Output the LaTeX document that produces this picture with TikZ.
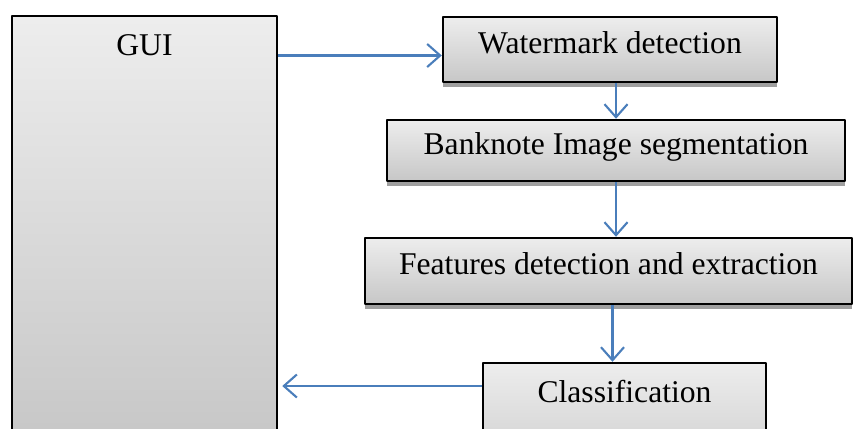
\documentclass[tikz,border=0pt]{standalone}
\usepackage{fontspec}
\setmainfont{Liberation Serif}
\usetikzlibrary{arrows.meta,shadows,calc}
\definecolor{flowblue}{RGB}{74,126,187}
\tikzset{
	blok/.style={draw=black, line width=1.4pt, rectangle, top color=gray!14, bottom color=gray!44,
		font=\fontsize{18}{21}\selectfont, inner sep=0pt, text height=0.7em, text depth=0.3em},
	blokshadow/.style={general shadow={shadow yshift=-0.09cm, fill=gray!75}},
	flow/.style={draw=flowblue, line width=1.2pt, -{Straight Barb[length=2.6mm,width=4.6mm]}},
}
\begin{document}
\begin{tikzpicture}[join=round]
	\useasboundingbox (0,0) rectangle (17.1,-8.56);
	\clip (0,0) rectangle (17.1,-8.56);
	% boxes
	\node[blok, minimum width=5.3cm, text height=0.78cm, text depth=7.7cm, anchor=base] (gui) at (2.89,-1.10) {GUI};
	\node[blok, blokshadow, minimum width=6.68cm, minimum height=1.3cm] (wmark) at (12.2,-0.99) {Watermark detection};
	\node[blok, blokshadow, minimum width=9.16cm, minimum height=1.22cm] (segm) at (12.32,-3.01) {Banknote Image segmentation};
	\node[blok, blokshadow, minimum width=9.74cm, minimum height=1.32cm] (feat) at (12.17,-5.42) {Features detection and extraction};
	\node[blok, minimum width=5.66cm, text height=0.78cm, text depth=1.82cm, anchor=base] (classif) at (12.49,-8.04) {Classification};
	% arrows
	\coordinate (wmin) at ($(wmark.west)+(0,-0.12)$);
	\draw[flow] (gui.east |- wmin) -- (wmin);
	\draw[flow] (segm.north |- wmark.south) -- (segm.north);
	\draw[flow] (segm.south) -- (segm.south |- feat.north);
	\coordinate (fout) at ($(feat.south)+(0.08,0)$);
	\draw[flow] (fout) -- (fout |- classif.north);
	\coordinate (cout) at ($(classif.base west)+(0,0.32)$);
	\draw[flow, shorten >=0.08cm] (cout) -- (cout -| gui.east);
\end{tikzpicture}
\end{document}
